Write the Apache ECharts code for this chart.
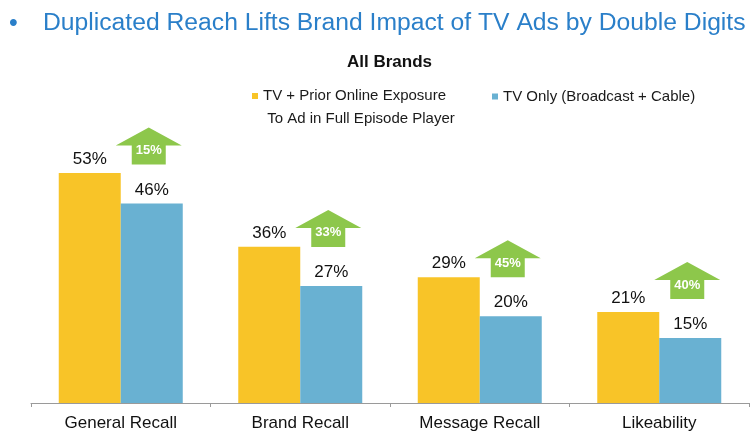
<!DOCTYPE html>
<html>
<head>
<meta charset="utf-8">
<script src="https://cdn.jsdelivr.net/npm/echarts@6/dist/echarts.min.js"></script>
<style>
html,body{margin:0;padding:0;background:#fff;}
#chart{width:751px;height:442px;}
</style>
</head>
<body>
<div id="chart"></div>
<script>
var categories = ['General Recall', 'Brand Recall', 'Message Recall', 'Likeability'];
var tvPlusOnline = [53, 36, 29, 21];
var tvOnly = [46, 27, 20, 15];
var lifts = [15, 33, 45, 40];
var seriesNames = ['TV + Prior Online Exposure To Ad in Full Episode Player', 'TV Only (Broadcast + Cable)'];
var legendLines = ['TV + Prior Online Exposure', ' To Ad in Full Episode Player'];
var titleText = 'Duplicated Reach Lifts Brand Impact of TV Ads by Double Digits';
var subtitleText = 'All Brands';

var FONT = "'Liberation Sans', Arial, Helvetica, sans-serif";
var YELLOW = '#F8C428';
var BLUE = '#69B1D2';
var GREEN = '#8DC74B';
var BAR_W = 62;

var arrowData = lifts.map(function (l, i) { return [i, tvOnly[i], l]; });

var chart = echarts.init(document.getElementById('chart'), null, {renderer: 'canvas'});
chart.setOption({
  animation: false,
  backgroundColor: '#ffffff',
  title: [
    {text: '\u2022', left: 4, top: 7, textStyle: {fontFamily: FONT, fontSize: 25, fontWeight: 'normal', color: '#2a7fc9'}},
    {text: titleText, left: 38, top: 6, textStyle: {fontFamily: FONT, fontSize: 24.7, fontWeight: 'normal', color: '#2a7fc9'}},
    {text: subtitleText, left: 342, top: 49, textStyle: {fontFamily: FONT, fontSize: 17, fontWeight: 'bold', color: '#111'}}
  ],
  legend: [
    {
      data: [seriesNames[0]], left: 252, top: 61.5, padding: 0,
      icon: 'rect', itemWidth: 6, itemHeight: 6,
      formatter: function () { return '\n' + legendLines[0] + '\n' + legendLines[1]; },
      textStyle: {fontFamily: FONT, fontSize: 15, color: '#1a1a1a', lineHeight: 23}
    },
    {
      data: [seriesNames[1]], left: 492, top: 85, padding: 0,
      icon: 'rect', itemWidth: 6, itemHeight: 6,
      textStyle: {fontFamily: FONT, fontSize: 15, color: '#1a1a1a', lineHeight: 23}
    }
  ],
  grid: {left: 31, right: 2, top: 56, bottom: 39, containLabel: false},
  xAxis: {
    type: 'category', data: categories,
    axisLine: {lineStyle: {color: '#9a9a9a', width: 1}},
    axisTick: {show: true, length: 4, lineStyle: {color: '#9a9a9a'}},
    axisLabel: {fontFamily: FONT, fontSize: 17, color: '#111', margin: 12}
  },
  yAxis: {type: 'value', min: 0, max: 80, show: false, splitLine: {show: false}},
  series: [
    {
      name: seriesNames[0], type: 'bar', data: tvPlusOnline, barWidth: BAR_W, barGap: '0%',
      itemStyle: {color: YELLOW},
      label: {show: true, position: 'top', distance: 5, formatter: '{c}%', fontFamily: FONT, fontSize: 17, color: '#111'}
    },
    {
      name: seriesNames[1], type: 'bar', data: tvOnly, barWidth: BAR_W, barGap: '0%',
      itemStyle: {color: BLUE},
      label: {show: true, position: 'top', distance: 5, formatter: '{c}%', fontFamily: FONT, fontSize: 17, color: '#111'}
    },
    {
      name: 'lift', type: 'custom', data: arrowData, z: 5,
      encode: {x: 0, y: 1},
      renderItem: function (params, api) {
        var p = api.coord([api.value(0), api.value(1)]);
        var cx = p[0] + BAR_W / 2 - 3;
        var bottom = p[1] - 39;
        var headH = 18, bodyH = 19, headW = 66, bodyW = 34;
        var tip = bottom - headH - bodyH;
        var base = tip + headH;
        var pts = [
          [cx, tip], [cx + headW / 2, base], [cx + bodyW / 2, base], [cx + bodyW / 2, bottom],
          [cx - bodyW / 2, bottom], [cx - bodyW / 2, base], [cx - headW / 2, base]
        ];
        return {
          type: 'group',
          children: [
            {type: 'polygon', shape: {points: pts}, style: {fill: GREEN}},
            {type: 'text', x: cx, y: tip + 23, style: {
              text: api.value(2) + '%', fill: '#fff', align: 'center', verticalAlign: 'middle',
              font: 'bold 13px ' + FONT
            }}
          ]
        };
      }
    }
  ]
});
</script>
</body>
</html>
